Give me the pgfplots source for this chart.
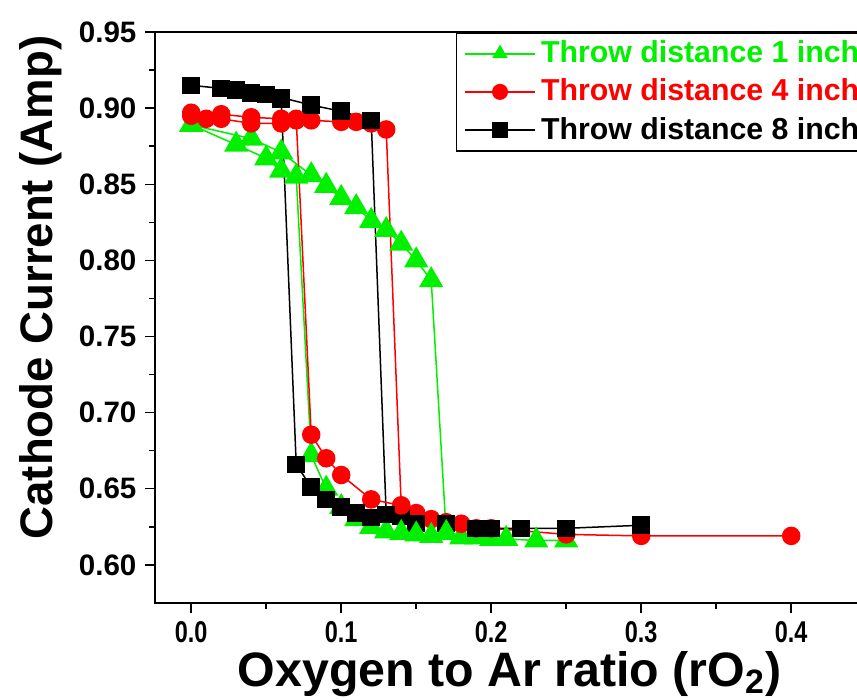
\documentclass[border=0pt]{standalone}
\usepackage{pgfplots}
\pgfplotsset{compat=1.18}
\usepackage{fontspec}
\setmainfont{Liberation Sans}
\usetikzlibrary{calc}
\definecolor{lg}{RGB}{0,240,0}
\definecolor{lr}{RGB}{255,0,0}
\begin{document}
\begin{tikzpicture}
\begin{axis}[
  scale only axis,
  width=280.8pt, height=228pt,
  xmin=-0.024, xmax=0.4447,
  ymin=0.575, ymax=0.95,
  axis line style={line width=0.7pt},
  xtick={0,0.1,0.2,0.3,0.4},
  minor xtick={0.05,0.15,0.25,0.35},
  ytick={0.60,0.65,0.70,0.75,0.80,0.85,0.90,0.95},
  minor ytick={0.625,0.675,0.725,0.775,0.825,0.875,0.925},
  xtick pos=left, ytick pos=left,
  tick align=outside,
  major tick length=4pt, minor tick length=2.4pt,
  every tick/.style={black, line width=0.6pt},
  /pgf/number format/assume math mode=true,
  xticklabel style={font=\fontsize{12}{14}\selectfont\bfseries, xscale=0.78, /pgf/number format/.cd, fixed, fixed zerofill, precision=1},
  yticklabel style={font=\fontsize{11.8}{14}\selectfont\bfseries, /pgf/number format/.cd, fixed, fixed zerofill, precision=2},
  xlabel={Oxygen to Ar ratio (rO\textsubscript{2})},
  ylabel={Cathode Current (Amp)},
  xlabel style={font=\fontsize{19.3}{21}\selectfont\bfseries, at={(rel axis cs:0.504,0)}, anchor=base, yshift=-33.2pt},
  ylabel style={font=\fontsize{18.2}{20}\selectfont\bfseries, at={($(rel axis cs:0,0.5526)+(-33.6pt,0pt)$)}, anchor=south},
  legend cell align=left,
  legend style={at={(rel axis cs:0.4274,1)}, anchor=north west, draw=black, line width=0.6pt,
    font=\fontsize{12.1}{13}\selectfont\bfseries, row sep=1.0pt, inner xsep=3pt, inner ysep=1.2pt},
  legend image code/.code={\draw[#1, line width=0.8pt, mark size=2.8pt, mark repeat=2, mark phase=2] plot coordinates {(0pt,0pt) (14pt,0pt) (28pt,0pt)};},
]
\coordinate (O) at (rel axis cs:0,0);
\coordinate (TR) at (rel axis cs:1,1);

% Throw distance 1 inch (forward)
\addplot[lg, line width=0.6pt, mark=triangle*, mark size=5pt, mark options={solid, fill=lg, draw=lg}] coordinates {
(0,0.889) (0.04,0.880) (0.06,0.871) (0.08,0.856) (0.09,0.849) (0.10,0.841) (0.11,0.835)
(0.12,0.826) (0.13,0.820) (0.14,0.811) (0.15,0.800) (0.16,0.787) (0.17,0.621) (0.18,0.618)
(0.19,0.618) (0.20,0.617) (0.21,0.617) (0.23,0.616) (0.25,0.616)
};
\addlegendentry{\textcolor{lg}{Throw distance 1 inch}}

% Throw distance 4 inch (forward)
\addplot[lr, line width=0.6pt, mark=*, mark size=3.4pt, mark options={solid, fill=lr, draw=lr}] coordinates {
(0,0.897) (0.01,0.893) (0.02,0.896) (0.04,0.894) (0.06,0.893) (0.07,0.892) (0.08,0.892)
(0.10,0.891) (0.11,0.891) (0.12,0.890) (0.13,0.886) (0.14,0.639) (0.15,0.634) (0.16,0.630)
(0.17,0.628) (0.18,0.627) (0.19,0.624) (0.20,0.624) (0.25,0.620) (0.30,0.619) (0.40,0.619)
};
\addlegendentry{\textcolor{lr}{Throw distance 4 inch}}

% Throw distance 8 inch (forward)
\addplot[black, line width=0.6pt, mark=square*, mark size=3.2pt, mark options={solid, fill=black}] coordinates {
(0,0.915) (0.02,0.913) (0.03,0.912) (0.04,0.910) (0.05,0.909) (0.06,0.907) (0.08,0.902)
(0.10,0.898) (0.12,0.892) (0.13,0.633) (0.14,0.632) (0.15,0.627) (0.17,0.627) (0.19,0.624)
(0.20,0.624) (0.22,0.624) (0.25,0.624) (0.30,0.626)
};
\addlegendentry{Throw distance 8 inch}

% return branches
\addplot[forget plot, lg, line width=0.6pt, mark=triangle*, mark size=5pt, mark options={solid, fill=lg, draw=lg}] coordinates {
(0.17,0.621) (0.16,0.619) (0.15,0.620) (0.14,0.621) (0.13,0.622) (0.12,0.625) (0.11,0.630)
(0.10,0.638) (0.09,0.650) (0.08,0.672) (0.07,0.855) (0.06,0.859) (0.05,0.867) (0.03,0.876) (0,0.889)
};
\addplot[forget plot, lr, line width=0.6pt, mark=*, mark size=3.4pt, mark options={solid, fill=lr, draw=lr}] coordinates {
(0.14,0.639) (0.12,0.643) (0.10,0.659) (0.09,0.670) (0.08,0.6855) (0.07,0.893) (0.06,0.890)
(0.04,0.890) (0.02,0.893) (0,0.895)
};
\addplot[forget plot, black, line width=0.6pt, mark=square*, mark size=3.2pt, mark options={solid, fill=black}] coordinates {
(0.13,0.633) (0.12,0.631) (0.11,0.634) (0.10,0.638) (0.09,0.643) (0.08,0.651) (0.07,0.666) (0.06,0.906)
};
\end{axis}
\pgfresetboundingbox
\path[use as bounding box] ($(O)+(-62pt,-38.4pt)$) rectangle ($(TR)+(-0.5pt,12.8pt)$);
\end{tikzpicture}
\end{document}
